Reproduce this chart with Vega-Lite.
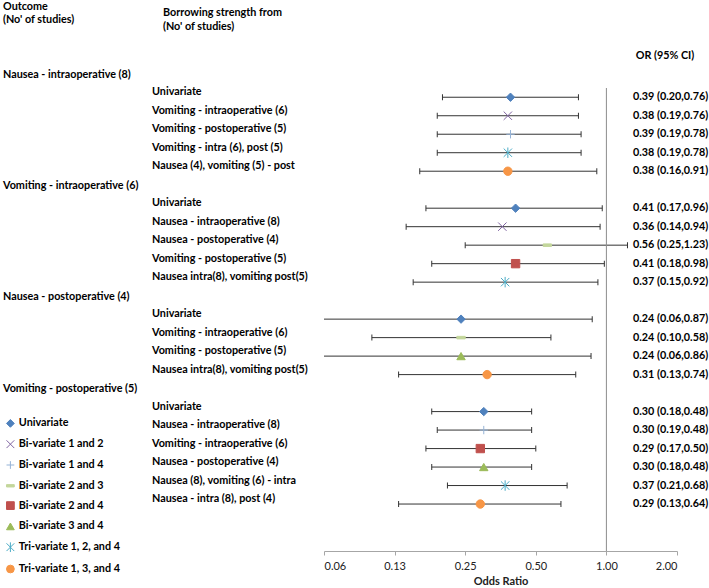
{
  "$schema": "https://vega.github.io/schema/vega-lite/v6.json",
  "autosize": {"type": "none"},
  "padding": {"left": 324, "top": 88, "right": 32, "bottom": 37},
  "width": 353,
  "height": 463,
  "background": "white",
  "config": {"view": {"stroke": null}, "font": "Lato"},
  "datasets": {
    "est": [
      {"row": 1, "source": "Univariate", "method": "Univariate", "or": 0.39, "lo": 0.20, "hi": 0.76, "label": "0.39 (0.20,0.76)"},
      {"row": 2, "source": "Vomiting - intraoperative (6)", "method": "Bi-variate 1 and 2", "or": 0.38, "lo": 0.19, "hi": 0.76, "label": "0.38 (0.19,0.76)"},
      {"row": 3, "source": "Vomiting - postoperative (5)", "method": "Bi-variate 1 and 4", "or": 0.39, "lo": 0.19, "hi": 0.78, "label": "0.39 (0.19,0.78)"},
      {"row": 4, "source": "Vomiting - intra (6), post (5)", "method": "Tri-variate 1, 2, and 4", "or": 0.38, "lo": 0.19, "hi": 0.78, "label": "0.38 (0.19,0.78)"},
      {"row": 5, "source": "Nausea (4), vomiting (5) - post", "method": "Tri-variate 1, 3, and 4", "or": 0.38, "lo": 0.16, "hi": 0.91, "label": "0.38 (0.16,0.91)"},
      {"row": 7, "source": "Univariate", "method": "Univariate", "or": 0.41, "lo": 0.17, "hi": 0.96, "label": "0.41 (0.17,0.96)"},
      {"row": 8, "source": "Nausea - intraoperative (8)", "method": "Bi-variate 1 and 2", "or": 0.36, "lo": 0.14, "hi": 0.94, "label": "0.36 (0.14,0.94)"},
      {"row": 9, "source": "Nausea - postoperative (4)", "method": "Bi-variate 2 and 3", "or": 0.56, "lo": 0.25, "hi": 1.23, "label": "0.56 (0.25,1.23)"},
      {"row": 10, "source": "Vomiting - postoperative (5)", "method": "Bi-variate 2 and 4", "or": 0.41, "lo": 0.18, "hi": 0.98, "label": "0.41 (0.18,0.98)"},
      {"row": 11, "source": "Nausea intra(8), vomiting post(5)", "method": "Tri-variate 1, 2, and 4", "or": 0.37, "lo": 0.15, "hi": 0.92, "label": "0.37 (0.15,0.92)"},
      {"row": 13, "source": "Univariate", "method": "Univariate", "or": 0.24, "lo": 0.06, "hi": 0.87, "label": "0.24 (0.06,0.87)"},
      {"row": 14, "source": "Vomiting - intraoperative (6)", "method": "Bi-variate 2 and 3", "or": 0.24, "lo": 0.10, "hi": 0.58, "label": "0.24 (0.10,0.58)"},
      {"row": 15, "source": "Vomiting - postoperative (5)", "method": "Bi-variate 3 and 4", "or": 0.24, "lo": 0.06, "hi": 0.86, "label": "0.24 (0.06,0.86)"},
      {"row": 16, "source": "Nausea intra(8), vomiting post(5)", "method": "Tri-variate 1, 3, and 4", "or": 0.31, "lo": 0.13, "hi": 0.74, "label": "0.31 (0.13,0.74)"},
      {"row": 18, "source": "Univariate", "method": "Univariate", "or": 0.30, "lo": 0.18, "hi": 0.48, "label": "0.30 (0.18,0.48)"},
      {"row": 19, "source": "Nausea - intraoperative (8)", "method": "Bi-variate 1 and 4", "or": 0.30, "lo": 0.19, "hi": 0.48, "label": "0.30 (0.19,0.48)"},
      {"row": 20, "source": "Vomiting - intraoperative (6)", "method": "Bi-variate 2 and 4", "or": 0.29, "lo": 0.17, "hi": 0.50, "label": "0.29 (0.17,0.50)"},
      {"row": 21, "source": "Nausea - postoperative (4)", "method": "Bi-variate 3 and 4", "or": 0.30, "lo": 0.18, "hi": 0.48, "label": "0.30 (0.18,0.48)"},
      {"row": 22, "source": "Nausea (8), vomiting (6) - intra", "method": "Tri-variate 1, 2, and 4", "or": 0.37, "lo": 0.21, "hi": 0.68, "label": "0.37 (0.21,0.68)"},
      {"row": 23, "source": "Nausea - intra (8), post (4)", "method": "Tri-variate 1, 3, and 4", "or": 0.29, "lo": 0.13, "hi": 0.64, "label": "0.29 (0.13,0.64)"}
    ],
    "outcomes": [
      {"row": 0, "outcome": "Nausea - intraoperative (8)"},
      {"row": 6, "outcome": "Vomiting - intraoperative (6)"},
      {"row": 12, "outcome": "Nausea - postoperative (4)"},
      {"row": 17, "outcome": "Vomiting - postoperative (5)"}
    ]
  },
  "layer": [
    {
      "data": {"name": "est"},
      "mark": {"type": "rule", "color": "#333333", "strokeWidth": 1, "clip": true},
      "encoding": {
        "x": {
          "field": "lo", "type": "quantitative",
          "scale": {"type": "log", "base": 2, "domain": [0.0625, 2], "nice": false, "zero": false},
          "axis": {
            "title": "Odds Ratio", "values": [0.0625, 0.125, 0.25, 0.5, 1, 2], "format": ".2f",
            "grid": false, "domainColor": "#a6a6a6", "tickColor": "#a6a6a6", "tickSize": 4,
            "labelFont": "Lato", "labelFontSize": 11, "labelColor": "#222222", "labelPadding": 5,
            "titleFont": "Lato", "titleFontSize": 11, "titleFontWeight": "bold", "titleColor": "#222222", "titlePadding": 4
          }
        },
        "x2": {"field": "hi"},
        "y": {"field": "row", "type": "quantitative", "scale": {"domain": [0.5, 25.54], "reverse": true, "nice": false, "zero": false}, "axis": null}
      }
    },
    {
      "data": {"name": "est"},
      "mark": {"type": "tick", "orient": "vertical", "size": 6, "thickness": 1, "color": "#333333", "clip": true, "opacity": 1},
      "encoding": {
        "x": {"field": "lo", "type": "quantitative"},
        "y": {"field": "row", "type": "quantitative", "axis": null}
      }
    },
    {
      "data": {"name": "est"},
      "mark": {"type": "tick", "orient": "vertical", "size": 6, "thickness": 1, "color": "#333333", "clip": true, "opacity": 1},
      "encoding": {
        "x": {"field": "hi", "type": "quantitative"},
        "y": {"field": "row", "type": "quantitative", "axis": null}
      }
    },
    {
      "data": {"values": [{}]},
      "mark": {"type": "rule", "color": "#8c8c8c", "strokeWidth": 1},
      "encoding": {"x": {"datum": 1}}
    },
    {
      "data": {"name": "est"},
      "mark": {"type": "point", "filled": true, "size": 70, "strokeWidth": 1, "opacity": 1},
      "encoding": {
        "x": {"field": "or", "type": "quantitative"},
        "y": {"field": "row", "type": "quantitative", "axis": null},
        "shape": {
          "field": "method", "type": "nominal",
          "scale": {
            "domain": ["Univariate", "Bi-variate 1 and 2", "Bi-variate 1 and 4", "Bi-variate 2 and 3", "Bi-variate 2 and 4", "Bi-variate 3 and 4", "Tri-variate 1, 2, and 4", "Tri-variate 1, 3, and 4"],
            "range": ["diamond", "M-1,-1L1,1M-1,1L1,-1", "M-1,0L1,0M0,-1L0,1", "M-1,-0.3L1,-0.3L1,0.3L-1,0.3Z", "square", "triangle-up", "M-1,-1L1,1M-1,1L1,-1M0,-1.25L0,1.25", "circle"]
          },
          "legend": {"title": null, "orient": "none", "legendX": -319, "legendY": 330, "padding": 0, "symbolSize": 60, "symbolStrokeWidth": 1, "labelFont": "Lato", "labelFontSize": 10.8, "labelFontWeight": "bold", "labelColor": "#000000", "rowPadding": 7.8, "labelOffset": 3}
        },
        "fill": {
          "field": "method", "type": "nominal",
          "scale": {
            "domain": ["Univariate", "Bi-variate 1 and 2", "Bi-variate 1 and 4", "Bi-variate 2 and 3", "Bi-variate 2 and 4", "Bi-variate 3 and 4", "Tri-variate 1, 2, and 4", "Tri-variate 1, 3, and 4"],
            "range": ["#4F81BD", "#8064A2", "#95B3D7", "#C3D69B", "#C0504D", "#9BBB59", "#4BACC6", "#F79646"]
          },
          "legend": {"title": null, "orient": "none", "legendX": -319, "legendY": 330, "padding": 0, "symbolSize": 60, "symbolStrokeWidth": 1, "labelFont": "Lato", "labelFontSize": 10.8, "labelFontWeight": "bold", "labelColor": "#000000", "rowPadding": 7.8, "labelOffset": 3}
        },
        "stroke": {
          "field": "method", "type": "nominal",
          "scale": {
            "domain": ["Univariate", "Bi-variate 1 and 2", "Bi-variate 1 and 4", "Bi-variate 2 and 3", "Bi-variate 2 and 4", "Bi-variate 3 and 4", "Tri-variate 1, 2, and 4", "Tri-variate 1, 3, and 4"],
            "range": ["#4F81BD", "#8064A2", "#95B3D7", "#C3D69B", "#C0504D", "#9BBB59", "#4BACC6", "#F79646"]
          },
          "legend": {"title": null, "orient": "none", "legendX": -319, "legendY": 330, "padding": 0, "symbolSize": 60, "symbolStrokeWidth": 1, "labelFont": "Lato", "labelFontSize": 10.8, "labelFontWeight": "bold", "labelColor": "#000000", "rowPadding": 7.8, "labelOffset": 3}
        }
      }
    },
    {
      "data": {"name": "outcomes"},
      "mark": {"type": "text", "align": "left", "baseline": "middle", "font": "Lato", "fontSize": 10.8, "fontWeight": "bold", "color": "#000000", "dy": -4},
      "encoding": {
        "x": {"value": -321},
        "y": {"field": "row", "type": "quantitative", "axis": null},
        "text": {"field": "outcome"}
      }
    },
    {
      "data": {"name": "est"},
      "mark": {"type": "text", "align": "left", "baseline": "middle", "font": "Lato", "fontSize": 10.8, "fontWeight": "bold", "color": "#000000", "dy": -5},
      "encoding": {
        "x": {"value": -172},
        "y": {"field": "row", "type": "quantitative", "axis": null},
        "text": {"field": "source"}
      }
    },
    {
      "data": {"name": "est"},
      "mark": {"type": "text", "align": "left", "baseline": "middle", "font": "Lato", "fontSize": 10.8, "fontWeight": "bold", "color": "#000000"},
      "encoding": {
        "x": {"value": 309},
        "y": {"field": "row", "type": "quantitative", "axis": null},
        "text": {"field": "label"}
      }
    },
    {
      "data": {"values": [{"h": ["Outcome", "(No' of studies)"]}]},
      "mark": {"type": "text", "align": "left", "baseline": "alphabetic", "font": "Lato", "fontSize": 10.8, "fontWeight": "bold", "color": "#000000", "lineHeight": 12.6},
      "encoding": {"x": {"value": -321}, "y": {"value": -78}, "text": {"field": "h"}}
    },
    {
      "data": {"values": [{"h": ["Borrowing strength from", "(No' of studies)"]}]},
      "mark": {"type": "text", "align": "left", "baseline": "alphabetic", "font": "Lato", "fontSize": 10.8, "fontWeight": "bold", "color": "#000000", "lineHeight": 13.7},
      "encoding": {"x": {"value": -161}, "y": {"value": -72}, "text": {"field": "h"}}
    },
    {
      "data": {"values": [{"h": "OR (95% CI)"}]},
      "mark": {"type": "text", "align": "center", "baseline": "middle", "font": "Lato", "fontSize": 10.8, "fontWeight": "bold", "color": "#000000"},
      "encoding": {"x": {"value": 341}, "y": {"value": -32}, "text": {"field": "h"}}
    }
  ]
}
